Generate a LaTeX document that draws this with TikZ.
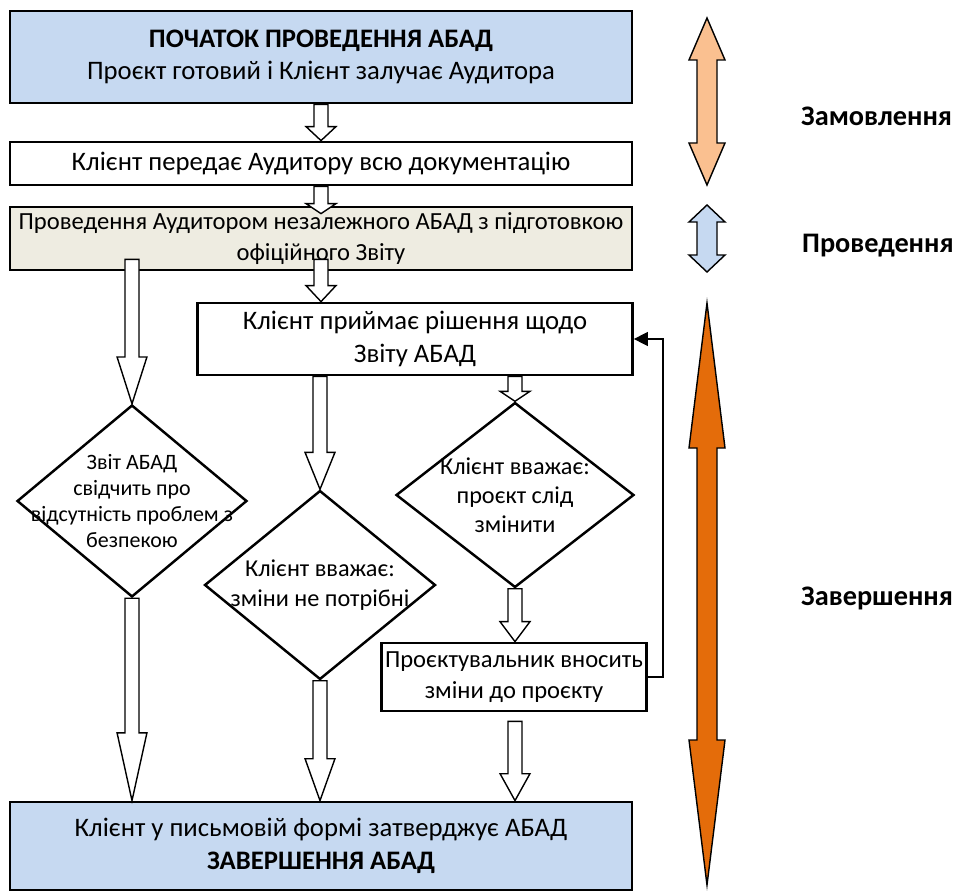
\documentclass[tikz,border=0pt]{standalone}
\usepackage{fontspec}
\setmainfont{Carlito}
\usepackage{xcolor}
\definecolor{paleblue}{HTML}{C6D9F1}
\definecolor{tan}{HTML}{EEECE1}
\definecolor{lightorange}{HTML}{FAC090}
\definecolor{darkorange}{HTML}{E46C0A}
\usepackage{tikz}
\usetikzlibrary{arrows.meta,calc,shapes.geometric}
\tikzset{box/.style={draw=black,line width=1.6pt,align=center,inner sep=2pt},hollow/.style={draw=black,fill=white,line width=.8pt,line join=miter},fb/.style={draw=black,line width=.8pt,-{Triangle[length=8pt,width=8pt]}}}
% hollow block arrow: start, tip, head length (px)
\newcommand{\hollowarrow}[3]{\draw[hollow] let \p1=#1, \p2=#2 in (\x1-4pt,\y1)--(\x1-4pt,\y2+#3*0.567pt)--(\x1-8.5pt,\y2+#3*0.567pt)--(\x2,\y2)--(\x1+8.5pt,\y2+#3*0.567pt)--(\x1+4pt,\y2+#3*0.567pt)--(\x1+4pt,\y1)--cycle;}
% double phase arrow: x, top, bottom, head length, colour
\newcommand{\phasearrow}[5]{\draw[phase,fill=#5] (#1,#2)--(#1+18,#2+#4)--(#1+10,#2+#4)--(#1+10,#3-#4)--(#1+18,#3-#4)--(#1,#3)--(#1-18,#3-#4)--(#1-10,#3-#4)--(#1-10,#2+#4)--(#1-18,#2+#4)--cycle;}

\begin{document}
\begin{tikzpicture}[x=0.02cm,y=-0.02cm,font=\fontsize{15.2}{18.6}\selectfont,
small/.style={font=\fontsize{14}{17.5}\selectfont},
decision/.style={draw=black,diamond,line width=1.4pt,inner sep=0pt},
dtext/.style={align=center,font=\fontsize{13.8}{16.6}\selectfont},
phase/.style={draw=black,line width=.8pt},
phaselabel/.style={anchor=west,font=\fontsize{16.1}{19}\selectfont\bfseries}]
\useasboundingbox (0,0) rectangle (957,892);
\node[box,fill=paleblue,minimum width=12.44cm,minimum height=1.84cm] (b1) at (321,57) {\textbf{ПОЧАТОК ПРОВЕДЕННЯ АБАД}\\Проєкт готовий і Клієнт залучає Аудитора};
\node[box,fill=white,minimum width=12.44cm,minimum height=.86cm] (b2) at (321,163.5) {Клієнт передає Аудитору всю документацію};
\node[box,small,fill=tan,minimum width=12.44cm,minimum height=1.26cm] (b3) at (321,238.5) {Проведення Аудитором незалежного АБАД з підготовкою\\офіційного Звіту};
\node[box,fill=white,minimum width=8.7cm,minimum height=1.44cm] (b4) at (415,339) {Клієнт приймає рішення щодо\\Звіту АБАД};
\node[decision,minimum width=4.6cm,minimum height=3.84cm] (d1) at (132,501) {};
\node[dtext,font=\fontsize{12.5}{14.7}\selectfont] (d1t) at (d1) {Звіт АБАД\\свідчить про\\відсутність проблем з\\безпекою};
\node[decision,minimum width=4.62cm,minimum height=3.78cm] (d2) at (320,585) {};
\node[dtext,font=\fontsize{13.8}{17}\selectfont] (d2t) at (d2) {Клієнт вважає:\\зміни не потрібні};
\node[decision,minimum width=4.76cm,minimum height=3.7cm] (d3) at (515,495) {};
\node[dtext] (d3t) at (d3) {Клієнт вважає:\\проєкт слід\\змінити};
\node[box,small,fill=white,minimum width=5.2cm,minimum height=1.36cm] (b5) at (514,677) {Проєктувальник вносить\\зміни до проєкту};
\node[box,fill=paleblue,minimum width=12.44cm,minimum height=1.76cm] (b6) at (321,846) {Клієнт у письмовій формі затверджує АБАД\\\textbf{ЗАВЕРШЕННЯ АБАД}};
\coordinate (loop) at (663,340);
% flow
\hollowarrow{(b1.south)}{(b2.north)}{14}
\hollowarrow{(b2.south)}{($(b3.north)+(0,8)$)}{10}
\hollowarrow{($(b3.south -| d1.north)+(0,-12)$)}{(d1.north)}{47}
\hollowarrow{($(b3.south)+(0,-12)$)}{(b4.north -| b3.south)}{16}
\hollowarrow{(b4.south -| d2.north)}{(d2.north)}{37}
\hollowarrow{(b4.south -| d3.north)}{(d3.north)}{10}
\hollowarrow{(d3.south)}{(b5.north -| d3.south)}{20}
\hollowarrow{(d1.south)}{(b6.north -| d1.south)}{68}
\hollowarrow{(d2.south)}{(b6.north -| d2.south)}{42}
\hollowarrow{($(b5.south -| d3.south)+(0,9)$)}{(b6.north -| d3.south)}{27}
\draw[fb] (b5.east) -- (b5.east -| loop) |- (b4.east);
% phases
\phasearrow{707}{18}{185}{42}{lightorange}
\phasearrow{707}{205}{272}{17}{paleblue}
\phasearrow{707}{303}{885}{145}{darkorange}
\node[phaselabel] (p1) at (795,116) {Замовлення};
\node[phaselabel] (p2) at (796,246) {Проведення};
\node[phaselabel] (p3) at (795,598) {Завершення};
\end{tikzpicture}
\end{document}
